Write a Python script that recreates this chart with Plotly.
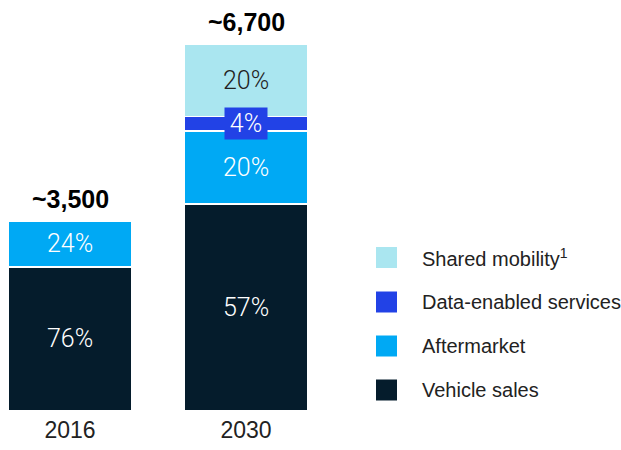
import plotly.graph_objects as go

# ---- data ----
years = ["2016", "2030"]
totals = [3500, 6700]
total_labels = ["~3,500", "~6,700"]
series_names = ["Vehicle sales", "Aftermarket", "Data-enabled services", "Shared mobility"]
legend_labels = ["Vehicle sales", "Aftermarket", "Data-enabled services", "Shared mobility<sup>1</sup>"]
vehicle_sales_pct = [76, 57]
aftermarket_pct = [24, 20]
data_services_pct = [None, 4]
shared_mobility_pct = [None, 20]

# ---- style ----
colors = ["#051C2C", "#00A9F4", "#2242E6", "#AAE6F0"]
label_colors = ["white", "white", "white", "#222222"]
FONT = "Liberation Sans, Arial, sans-serif"
LIGHT = "Roboto, Liberation Sans, sans-serif"

pct_series = [vehicle_sales_pct, aftermarket_pct, data_services_pct, shared_mobility_pct]

fig = go.Figure()
cum = [0.0, 0.0]
annotations = []
for name, pcts, col, lc in zip(series_names, pct_series, colors, label_colors):
    vals = [t * p / 100 if p is not None else None for t, p in zip(totals, pcts)]
    fig.add_trace(go.Bar(
        x=years, y=vals, name=name, showlegend=False,
        marker=dict(color=col, line=dict(color="white", width=1.5)),
        hoverinfo="skip",
    ))
    for i, (v, p) in enumerate(zip(vals, pcts)):
        if v is None:
            continue
        mid = cum[i] + v / 2
        ann = dict(
            x=i, y=mid, xref="x", yref="y", text=f"{p}%",
            showarrow=False, font=dict(family=LIGHT, size=25, color=lc, weight=300),
        )
        if v < 500:
            ann.update(bgcolor=col, borderpad=1, width=40)
        annotations.append(ann)
        cum[i] += v

for i, lab in enumerate(total_labels):
    annotations.append(dict(
        x=i, y=cum[i], xref="x", yref="y", text=f"<b>{lab}</b>",
        showarrow=False, yanchor="bottom", yshift=6,
        font=dict(family=FONT, size=25, color="#000000"),
    ))

# ---- legend (manual, squares + text) ----
PLOT_W = 340
PLOT_H = 411
legend_centers_px = [390, 346, 302, 257.5]  # vehicle, aftermarket, data, shared (top px)
shapes = []
for name, lab, col, cy in zip(series_names, legend_labels, colors, legend_centers_px):
    yp = (PLOT_H - cy) / PLOT_H
    shapes.append(dict(
        type="rect", xref="paper", yref="paper",
        xsizemode="pixel", ysizemode="pixel",
        xanchor=386.5 / PLOT_W, yanchor=yp,
        x0=-10.5, x1=10.5, y0=-10.5, y1=10.5,
        fillcolor=col, line=dict(width=0),
    ))
    annotations.append(dict(
        x=420 / PLOT_W, y=yp, xref="paper", yref="paper", text=lab,
        showarrow=False, xanchor="left", yanchor="middle",
        font=dict(family=FONT, size=20, color="#222222"),
    ))

fig.update_layout(
    barmode="stack",
    bargap=0.2955,
    width=621, height=450,
    margin=dict(l=0, r=621 - PLOT_W, t=0, b=450 - PLOT_H),
    paper_bgcolor="white", plot_bgcolor="white",
    annotations=annotations, shapes=shapes,
    font=dict(family=FONT),
)
fig.update_xaxes(
    type="category", range=[-70 / 176, (PLOT_W - 70) / 176],
    showgrid=False, zeroline=False, showline=False, ticks="",
    ticklabelstandoff=3,
    tickfont=dict(family=FONT, size=23, color="#222222"),
)
fig.update_yaxes(
    range=[0, 7579], showgrid=False, zeroline=False, showline=False,
    showticklabels=False,
)

fig.write_html("out.html", config={"displayModeBar": False},
               post_script="document.body.style.margin='0';")
